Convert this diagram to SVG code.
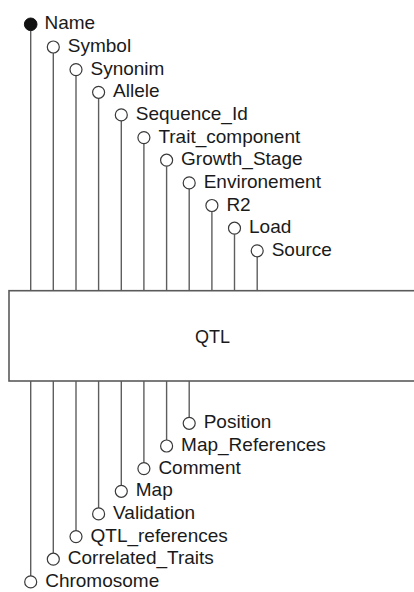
<svg xmlns="http://www.w3.org/2000/svg" width="414" height="592" viewBox="0 0 414 592">
  <style>
    .bg { fill: #ffffff; }
    .box { fill: #ffffff; stroke: #5a5a5a; stroke-width: 1.6; }
    .stem { stroke: #5e5e5e; stroke-width: 1.4; fill: none; }
    .port { fill: #ffffff; stroke: #3a3a3a; stroke-width: 1.2; }
    .key { fill: #111111; stroke: #111111; stroke-width: 1; }
    .lbl { font-family: "Liberation Sans", Arial, sans-serif; font-size: 19px; fill: #1a1a1a; }
    .title { font-family: "Liberation Sans", Arial, sans-serif; font-size: 18px; fill: #1a1a1a; text-anchor: middle; }
  </style>
  <rect class="bg" x="0" y="0" width="414" height="592"/>

  <!-- attribute stems -->
  <g id="connectors">
    <line class="stem" x1="30.7" y1="30.5" x2="30.7" y2="290.7"/>
    <line class="stem" x1="53.3" y1="53" x2="53.3" y2="290.7"/>
    <line class="stem" x1="76" y1="75.6" x2="76" y2="290.7"/>
    <line class="stem" x1="98.6" y1="98.3" x2="98.6" y2="290.7"/>
    <line class="stem" x1="121.3" y1="120.9" x2="121.3" y2="290.7"/>
    <line class="stem" x1="143.9" y1="143.6" x2="143.9" y2="290.7"/>
    <line class="stem" x1="166.6" y1="166.2" x2="166.6" y2="290.7"/>
    <line class="stem" x1="189.2" y1="188.9" x2="189.2" y2="290.7"/>
    <line class="stem" x1="211.9" y1="211.5" x2="211.9" y2="290.7"/>
    <line class="stem" x1="234.5" y1="234.2" x2="234.5" y2="290.7"/>
    <line class="stem" x1="257.2" y1="256.8" x2="257.2" y2="290.7"/>

    <line class="stem" x1="30.7" y1="381" x2="30.7" y2="575.9"/>
    <line class="stem" x1="53.3" y1="381" x2="53.3" y2="553.2"/>
    <line class="stem" x1="76" y1="381" x2="76" y2="530.6"/>
    <line class="stem" x1="98.6" y1="381" x2="98.6" y2="507.9"/>
    <line class="stem" x1="121.3" y1="381" x2="121.3" y2="485.3"/>
    <line class="stem" x1="143.9" y1="381" x2="143.9" y2="462.6"/>
    <line class="stem" x1="166.6" y1="381" x2="166.6" y2="440"/>
    <line class="stem" x1="189.2" y1="381" x2="189.2" y2="417.3"/>
  </g>

  <!-- entity -->
  <g id="qtl">
    <rect class="box" x="9" y="290.7" width="410" height="90.3"/>
    <text class="title" x="212.5" y="343">QTL</text>
  </g>

  <!-- attributes above the entity -->
  <g id="attr-name"><circle class="key" cx="30.7" cy="24.3" r="6.3"/><text class="lbl" x="44.5" y="29.3">Name</text></g>
  <g id="attr-symbol"><circle class="port" cx="53.3" cy="47" r="6"/><text class="lbl" x="67.8" y="52">Symbol</text></g>
  <g id="attr-synonim"><circle class="port" cx="76" cy="69.6" r="6"/><text class="lbl" x="90.5" y="74.6">Synonim</text></g>
  <g id="attr-allele"><circle class="port" cx="98.6" cy="92.3" r="6"/><text class="lbl" x="113.1" y="97.3">Allele</text></g>
  <g id="attr-sequence-id"><circle class="port" cx="121.3" cy="114.9" r="6"/><text class="lbl" x="135.8" y="119.9">Sequence_Id</text></g>
  <g id="attr-trait-component"><circle class="port" cx="143.9" cy="137.6" r="6"/><text class="lbl" x="158.4" y="142.6">Trait_component</text></g>
  <g id="attr-growth-stage"><circle class="port" cx="166.6" cy="160.2" r="6"/><text class="lbl" x="181.1" y="165.2">Growth_Stage</text></g>
  <g id="attr-environement"><circle class="port" cx="189.2" cy="182.9" r="6"/><text class="lbl" x="203.7" y="187.9">Environement</text></g>
  <g id="attr-r2"><circle class="port" cx="211.9" cy="205.5" r="6"/><text class="lbl" x="226.4" y="210.5">R2</text></g>
  <g id="attr-load"><circle class="port" cx="234.5" cy="228.2" r="6"/><text class="lbl" x="249" y="233.2">Load</text></g>
  <g id="attr-source"><circle class="port" cx="257.2" cy="250.8" r="6"/><text class="lbl" x="271.7" y="255.8">Source</text></g>

  <!-- attributes below the entity -->
  <g id="attr-position"><circle class="port" cx="189.2" cy="423.3" r="6"/><text class="lbl" x="203.7" y="428.3">Position</text></g>
  <g id="attr-map-references"><circle class="port" cx="166.6" cy="446" r="6"/><text class="lbl" x="181.1" y="451">Map_References</text></g>
  <g id="attr-comment"><circle class="port" cx="143.9" cy="468.6" r="6"/><text class="lbl" x="158.4" y="473.6">Comment</text></g>
  <g id="attr-map"><circle class="port" cx="121.3" cy="491.3" r="6"/><text class="lbl" x="135.8" y="496.3">Map</text></g>
  <g id="attr-validation"><circle class="port" cx="98.6" cy="513.9" r="6"/><text class="lbl" x="113.1" y="518.9">Validation</text></g>
  <g id="attr-qtl-references"><circle class="port" cx="76" cy="536.6" r="6"/><text class="lbl" x="90.5" y="541.6">QTL_references</text></g>
  <g id="attr-correlated-traits"><circle class="port" cx="53.3" cy="559.2" r="6"/><text class="lbl" x="67.8" y="564.2">Correlated_Traits</text></g>
  <g id="attr-chromosome"><circle class="port" cx="30.7" cy="581.9" r="6"/><text class="lbl" x="45.2" y="586.9">Chromosome</text></g>
</svg>
